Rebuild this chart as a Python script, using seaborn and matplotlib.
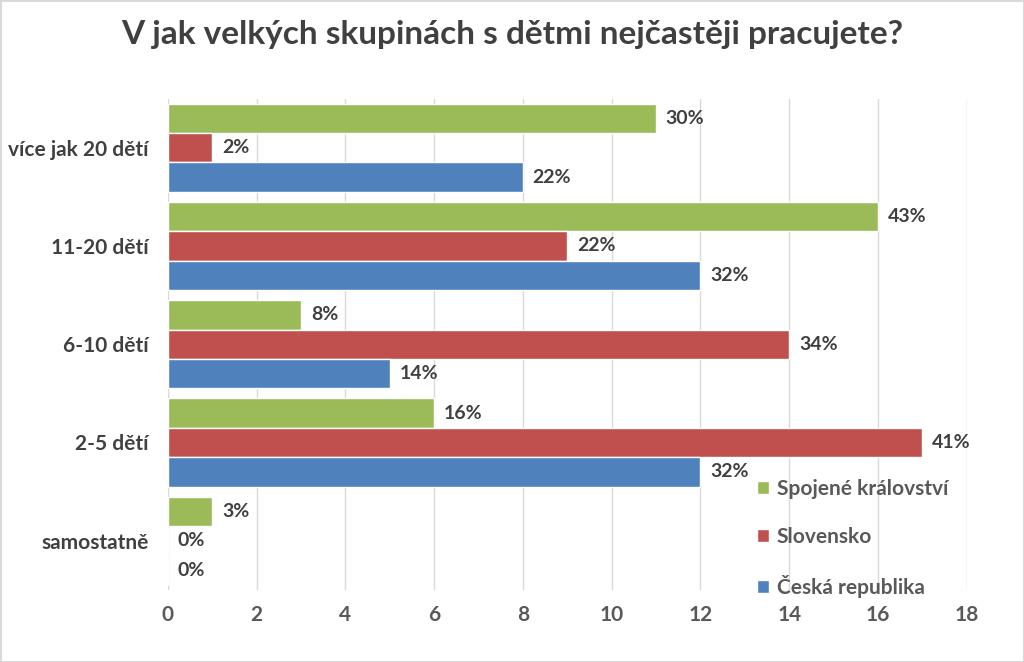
import seaborn as sns
import matplotlib.pyplot as plt
import pandas as pd

skupiny = ['více jak 20 dětí', '11-20 dětí', '6-10 dětí', '2-5 dětí', 'samostatně']
zeme = ['Spojené království', 'Slovensko', 'Česká republika']

# pocty odpovedi (delka sloupcu)
uk = [11, 16, 3, 6, 1]
sk = [1, 9, 14, 17, 0]
cz = [8, 12, 5, 12, 0]

# popisky v procentech
uk_pct = ['30%', '43%', '8%', '16%', '3%']
sk_pct = ['2%', '22%', '34%', '41%', '0%']
cz_pct = ['22%', '32%', '14%', '32%', '0%']

barvy = ['#9BBB59', '#C0504D', '#4F81BD']
seda = '#595959'

df = pd.DataFrame({
    'Skupina': skupiny * 3,
    'Země': [z for z in zeme for _ in skupiny],
    'Počet': uk + sk + cz,
})

sns.set_style('white')
plt.rcParams['font.family'] = ['Lato', 'DejaVu Sans']
plt.rcParams['font.weight'] = 'bold'

fig = plt.figure(figsize=(10.24, 6.62), dpi=100)
fig.patch.set_edgecolor('#D9D9D9')
fig.patch.set_linewidth(2)
ax = fig.add_axes([0.164, 0.109, 0.780, 0.742])

sns.barplot(data=df, y='Skupina', x='Počet', hue='Země', order=skupiny,
            hue_order=zeme, palette=barvy, orient='h', width=0.9,
            saturation=1, ax=ax, zorder=2)

for cont, lab in zip(ax.containers, [uk_pct, sk_pct, cz_pct]):
    ax.bar_label(cont, labels=lab, padding=7, fontsize=14, fontweight='bold',
                 color='#404040')

ax.set_xlim(0, 18)
ax.set_xticks(range(0, 19, 2))
ax.grid(axis='x', color='#D9D9D9', linewidth=1, zorder=0)
ax.set_axisbelow(True)
for s in ax.spines.values():
    s.set_visible(False)
ax.tick_params(axis='x', length=0, labelsize=15, colors=seda, pad=11)
ax.tick_params(axis='y', length=0, labelsize=15, colors='#404040', pad=14)
for t in ax.get_xticklabels() + ax.get_yticklabels():
    t.set_fontweight('bold')
ax.set_xlabel('')
ax.set_ylabel('')

leg = ax.legend(loc='lower right', bbox_to_anchor=(1.0, -0.055), frameon=False,
                fontsize=15, labelspacing=1.35, handlelength=0.6,
                handleheight=0.6, handletextpad=0.35)
for t in leg.get_texts():
    t.set_color(seda)
    t.set_fontweight('bold')

fig.suptitle('V jak velkých skupinách s dětmi nejčastěji pracujete?', x=0.5, y=0.97,
             fontsize=24, fontweight='bold', color='#404040')

fig.savefig('out.png', dpi=100)
